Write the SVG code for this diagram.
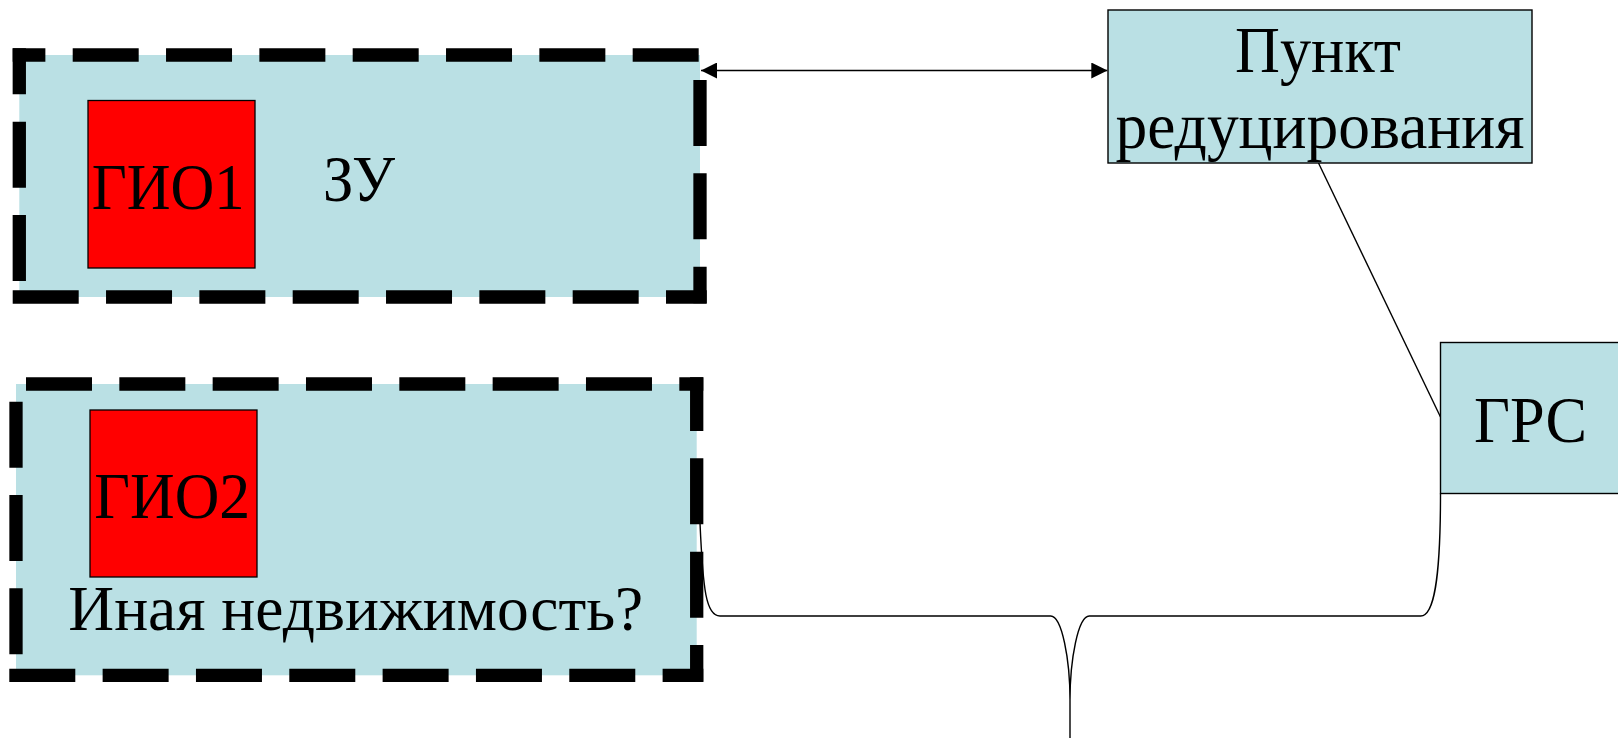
<svg xmlns="http://www.w3.org/2000/svg" width="1618" height="738" viewBox="0 0 1618 738">
  <defs>
    <style>
      .zone { fill: #BAE0E4; stroke: none; }
      .dash { stroke: #000; stroke-width: 13.3; stroke-dasharray: 66 27.33; stroke-linecap: butt; fill: none; }
      .gio { fill: #FF0000; stroke: #000; stroke-width: 1.3; }
      .box { fill: #BAE0E4; stroke: #000; stroke-width: 1.4; }
      .t { font-family: "Liberation Serif", "Times New Roman", serif; font-size: 66.5px; fill: #000; }
      .conn { fill: none; stroke: #000; stroke-width: 1.4; }
    </style>
    <marker id="ah" viewBox="0 0 16 16" refX="16" refY="8" markerWidth="16" markerHeight="16" markerUnits="userSpaceOnUse" orient="auto-start-reverse">
      <path d="M0,0 L16,8 L0,16 Z" fill="#000"/>
    </marker>
  </defs>

  <g id="zone-zu">
    <rect class="zone" x="19.3" y="55" width="680.7" height="242"/>
    <line class="dash" x1="12.7" y1="55" x2="706.7" y2="55" stroke-dashoffset="33.33"/>
    <line class="dash" x1="700" y1="55" x2="700" y2="303.3" stroke-dashoffset="68.33"/>
    <line class="dash" x1="12.7" y1="297" x2="706.7" y2="297" stroke-dashoffset="0"/>
    <line class="dash" x1="19.3" y1="48.3" x2="19.3" y2="303.3" stroke-dashoffset="19.93"/>
    <text class="t" x="323" y="200.5" textLength="72" lengthAdjust="spacingAndGlyphs">ЗУ</text>
  </g>

  <g id="gio1">
    <rect class="gio" x="88" y="100.5" width="167" height="167.5"/>
    <text class="t" x="91.7" y="209" textLength="153" lengthAdjust="spacingAndGlyphs">ГИО1</text>
  </g>

  <g id="zone-other">
    <rect class="zone" x="16" y="384" width="680.7" height="291.3"/>
    <line class="dash" x1="9.3" y1="384" x2="703.3" y2="384" stroke-dashoffset="76.63"/>
    <line class="dash" x1="696.7" y1="377.3" x2="696.7" y2="681.7" stroke-dashoffset="12.33"/>
    <line class="dash" x1="9.3" y1="675.3" x2="703.3" y2="675.3" stroke-dashoffset="0"/>
    <line class="dash" x1="16" y1="377.3" x2="16" y2="681" stroke-dashoffset="68.93"/>
    <text class="t" x="68.3" y="630" style="font-size:63px" textLength="575" lengthAdjust="spacingAndGlyphs">Иная недвижимость?</text>
  </g>

  <g id="gio2">
    <rect class="gio" x="90" y="410" width="167" height="167"/>
    <text class="t" x="94.3" y="518.3" textLength="156" lengthAdjust="spacingAndGlyphs">ГИО2</text>
  </g>

  <g id="punkt">
    <rect class="box" x="1108" y="10" width="424" height="153"/>
    <text class="t" x="1235" y="72.4" textLength="166" lengthAdjust="spacingAndGlyphs">Пункт</text>
    <text class="t" x="1115.5" y="148" textLength="409" lengthAdjust="spacingAndGlyphs">редуцирования</text>
  </g>

  <g id="grs">
    <rect class="box" x="1440.5" y="342.5" width="200" height="151"/>
    <text class="t" x="1474" y="442.3" textLength="113" lengthAdjust="spacingAndGlyphs">ГРС</text>
  </g>

  <g id="connectors">
    <line class="conn" x1="701" y1="70.5" x2="1107.3" y2="70.5" marker-start="url(#ah)" marker-end="url(#ah)"/>
    <line class="conn" x1="1318.5" y1="163" x2="1440.5" y2="417"/>
    <path class="conn" d="M700,523 C703,590 706,616 720,616 L1050.7,616 C1062,616 1070,660 1070,700 L1070,738 M1070,700 C1070,660 1078,616 1089.3,616 L1420.7,616 C1434,616 1440.5,580 1440.5,493.5"/>
  </g>
</svg>
